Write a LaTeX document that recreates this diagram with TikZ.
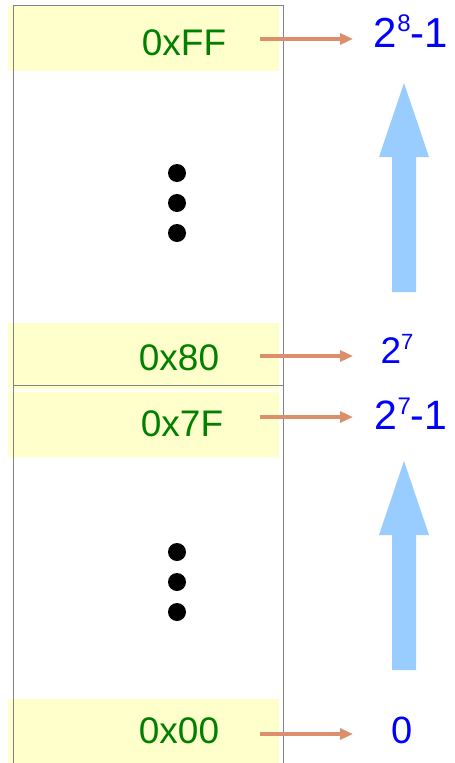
\documentclass[tikz,border=0pt]{standalone}
\usepackage{fontspec}
\setmainfont{Liberation Sans}
\usetikzlibrary{arrows.meta}
\definecolor{cellyellow}{RGB}{255,255,204}
\definecolor{hexgreen}{RGB}{0,128,0}
\definecolor{valblue}{RGB}{0,0,255}
\definecolor{ptrorange}{RGB}{221,143,108}
\definecolor{bigblue}{RGB}{153,204,255}
\definecolor{framegray}{RGB}{130,130,130}
\newcommand{\supx}[2]{\raisebox{0.36em}{\fontsize{#2}{#2}\selectfont #1}}
\begin{document}
\begin{tikzpicture}[x=1pt,y=-1pt,
  cell/.style={fill=cellyellow,draw=none},
  hex/.style={text=hexgreen,font=\fontsize{37}{37}\selectfont,inner sep=0pt,anchor=base},
  val/.style={text=valblue,inner sep=0pt,anchor=base},
  ptr/.style={draw=ptrorange,line width=3.5pt,-{Triangle[length=13pt,width=11pt]}},
  frame/.style={draw=framegray,line width=1pt},
  dot/.style={circle,fill=black,inner sep=0pt,minimum size=18pt},
  bigarrow/.style={fill=bigblue,draw=none}]
\useasboundingbox (0,0) rectangle (455,763);
% cells
\fill[cell] (8,6) rectangle (279,71);
\fill[cell] (8,323) rectangle (279,389);
\fill[cell] (8,392) rectangle (279,457);
\fill[cell] (8,699) rectangle (279,763);
% frame
\draw[frame] (13,763) -- (13,5) -- (283,5) -- (283,763);
\draw[frame] (13,385) -- (283,385);
% hex labels
\node[hex] (hFF) at (184,55) {0xFF};
\node[hex] (h80) at (179,370) {0x80};
\node[hex] (h7F) at (182,436) {0x7F};
\node[hex] (h00) at (179,743) {0x00};
% value labels
\node[val,font=\fontsize{42}{42}\selectfont] (vFF) at (411,47) {2\supx{8}{24}-1};
\node[val,font=\fontsize{37}{37}\selectfont] (v80) at (397,363) {2\supx{7}{22}};
\node[val,font=\fontsize{41}{41}\selectfont] (v7F) at (411,429) {2\supx{7}{24}-1};
\node[val,font=\fontsize{38}{38}\selectfont] (v00) at (402,743) {0};
% dots
\node[dot] (d1) at (177,173) {};
\node[dot] (d2) at (177,203) {};
\node[dot] (d3) at (177,233) {};
\node[dot] (d4) at (177,552) {};
\node[dot] (d5) at (177,582) {};
\node[dot] (d6) at (177,612) {};
% pointer arrows
\coordinate (sFF) at (260,39);  \coordinate (eFF) at (353,39);
\coordinate (s80) at (260,356); \coordinate (e80) at (353,356);
\coordinate (s7F) at (260,417); \coordinate (e7F) at (353,417);
\coordinate (s00) at (260,734); \coordinate (e00) at (353,734);
\draw[ptr] (sFF) -- (eFF);
\draw[ptr] (s80) -- (e80);
\draw[ptr] (s7F) -- (e7F);
\draw[ptr] (s00) -- (e00);
% big arrows
\fill[bigarrow] (392,292) -- (392,157) -- (379,157) -- (404,83) -- (429,157) -- (416,157) -- (416,292) -- cycle;
\fill[bigarrow] (392,670) -- (392,535) -- (379,535) -- (404,461) -- (429,535) -- (416,535) -- (416,670) -- cycle;
\end{tikzpicture}
\end{document}
